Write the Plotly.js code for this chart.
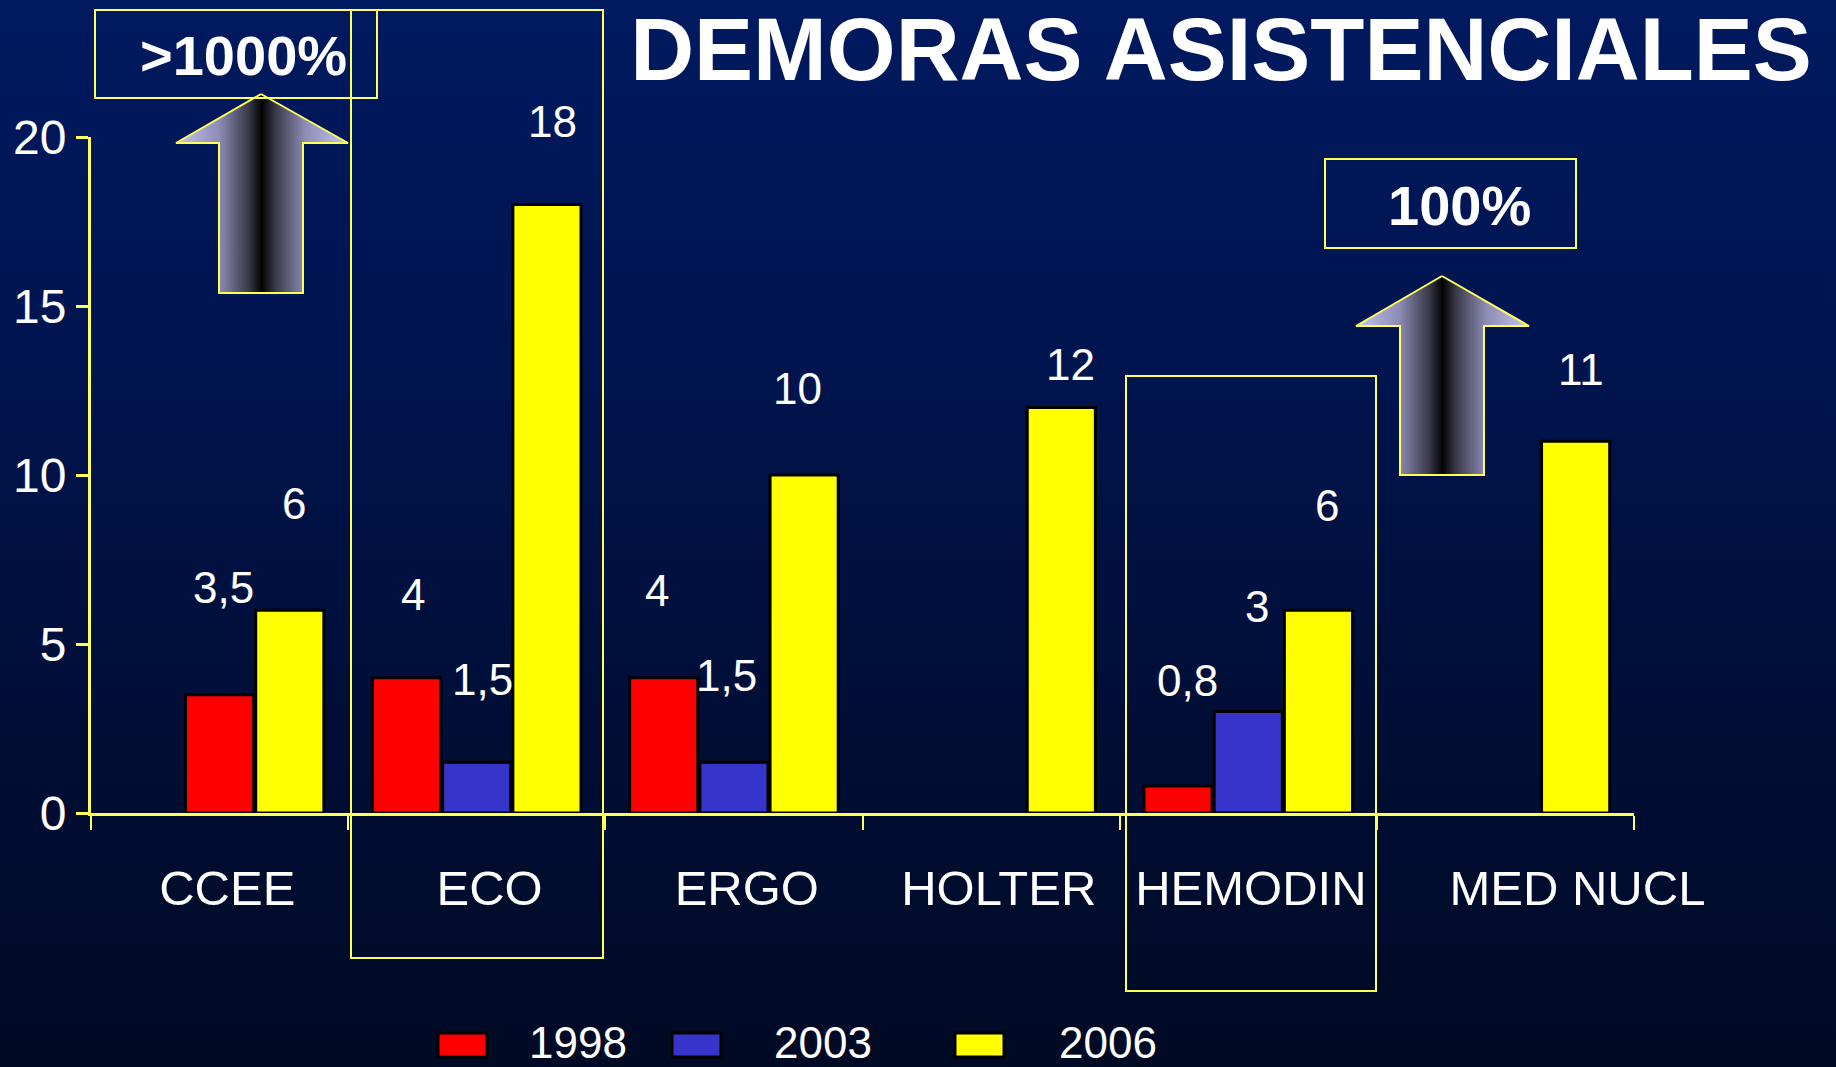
<!DOCTYPE html>
<html>
<head>
<meta charset="utf-8">
<script src="https://cdn.plot.ly/plotly-3.0.1.min.js"></script>
<style>
html, body { margin: 0; padding: 0; }
body {
  width: 1836px; height: 1067px; overflow: hidden;
  background: linear-gradient(to bottom, #001a60 0%, #00144e 35%, #000e35 70%, #000a24 100%);
}
#chart { width: 1836px; height: 1067px; }
</style>
</head>
<body>
<div id="chart"></div>
<script>
// data
var categories = ['CCEE', 'ECO', 'ERGO', 'HOLTER', 'HEMODIN', 'MED NUCL'];
var years = ['1998', '2003', '2006'];
var v1998 = [3.5, 4, 4, null, 0.8, null];
var v2003 = [null, 1.5, 1.5, null, 3, null];
var v2006 = [6, 18, 10, 12, 6, 11];
var yTicks = [0, 5, 10, 15, 20];

var colours = ['#ff0000', '#3535cc', '#ffff00'];
var yellowLine = '#ffff5a';
var font = 'Liberation Sans, Arial, sans-serif';

// slot of each bar inside its group (-1 left, 0 middle, 1 right)
var slots = [
  [0, -1, -1, -1, -1, -1],
  [0, 0, 0, 0, 0, 0],
  [1, 1, 1, 1, 1, 1]
];
// label nudges (px) per category
var labelDx = [4, 6, -7, 9, 9, 5];
var labelDy = [107, 83, 87, 43, 105, 72];
// small horizontal shift of category labels (category units)
var catLabelShift = [0.03, 0.05, 0.05, 0.03, 0.01, 0.28];

var W = 1836, H = 1067;
function px(x) { return x / W; }
function py(y) { return 1 - y / H; }

var xDom = [px(91), px(1634)];
var yDom = [py(813), py(137)];
var catPx = (1634 - 91) / categories.length;
var barW = 0.265, barStep = 0.273;

var series = [v1998, v2003, v2006];
var data = [];
series.forEach(function (vals, s) {
  data.push({
    type: 'bar',
    name: years[s],
    x: categories,
    y: vals,
    width: barW,
    offset: slots[s].map(function (k) { return k * barStep - barW / 2; }),
    marker: { color: colours[s], line: { color: '#000', width: 3 } },
    showlegend: false,
    hoverinfo: 'x+y+name'
  });
});

// block arrows (pixel space overlay)
var arrows = [
  { x: [261, 348, 303, 303, 219, 219, 176, 261], y: [94, 143, 143, 293, 293, 143, 143, 94] },
  { x: [1442, 1529, 1484, 1484, 1400, 1400, 1356, 1442], y: [276, 326, 326, 475, 475, 326, 326, 276] }
];
var arrowScale = [[0, '#c6c6f6'], [0.25, '#8c8cb4'], [0.42, '#3a3a4a'], [0.5, '#030305'],
                  [0.58, '#3a3a4a'], [0.75, '#8c8cb4'], [1, '#c6c6f6']];
arrows.forEach(function (a) {
  data.push({
    type: 'scatter', mode: 'lines', x: a.x, y: a.y,
    xaxis: 'x2', yaxis: 'y2', fill: 'toself',
    fillgradient: { type: 'horizontal', colorscale: arrowScale },
    line: { color: yellowLine, width: 2 },
    hoverinfo: 'skip', showlegend: false
  });
});

// empty trace so the label axis gets drawn
data.push({ type: 'scatter', x: [], y: [], xaxis: 'x3', yaxis: 'y', showlegend: false, hoverinfo: 'skip' });

var annotations = [];
series.forEach(function (vals, s) {
  vals.forEach(function (v, i) {
    if (v === null) return;
    annotations.push({
      xref: 'x', yref: 'y', x: categories[i], y: v,
      text: String(v).replace('.', ','),
      showarrow: false, xanchor: 'center', yanchor: 'middle',
      xshift: slots[s][i] * barStep * catPx + labelDx[i], yshift: labelDy[i],
      font: { family: font, size: 44, color: '#ffffff' }
    });
  });
});

annotations.push({
  xref: 'paper', yref: 'paper', x: px(243), y: py(55), text: '<b>&gt;1000%</b>',
  showarrow: false, xanchor: 'center', yanchor: 'middle',
  font: { family: font, size: 56, color: '#ffffff' }
});
annotations.push({
  xref: 'paper', yref: 'paper', x: px(1459), y: py(205), text: '<b>100%</b>',
  showarrow: false, xanchor: 'center', yanchor: 'middle',
  font: { family: font, size: 56, color: '#ffffff' }
});

function box(x0, y0, x1, y1) {
  return { type: 'rect', xref: 'paper', yref: 'paper', x0: px(x0), x1: px(x1), y0: py(y1), y1: py(y0),
           line: { color: yellowLine, width: 2 }, fillcolor: 'rgba(0,0,0,0)' };
}
var shapes = [
  box(95, 10, 377, 98),
  box(351, 10, 603, 958),
  box(1126, 376, 1376, 991),
  box(1325, 159, 1576, 248)
];

// legend drawn along the bottom
var legendSquareX = [438, 672, 955];
var legendTextX = [527, 772, 1057];
years.forEach(function (yr, s) {
  shapes.push({
    type: 'rect', xref: 'paper', yref: 'paper',
    x0: px(legendSquareX[s]), x1: px(legendSquareX[s] + 49), y0: py(1057), y1: py(1033),
    fillcolor: colours[s], line: { color: '#000', width: 3 }
  });
  annotations.push({
    xref: 'paper', yref: 'paper', x: px(legendTextX[s]), y: py(1042), text: yr,
    showarrow: false, xanchor: 'left', yanchor: 'middle',
    font: { family: font, size: 44, color: '#ffffff' }
  });
});

var layout = {
  width: W, height: H,
  margin: { l: 0, r: 0, t: 0, b: 0 },
  paper_bgcolor: 'rgba(0,0,0,0)',
  plot_bgcolor: 'rgba(0,0,0,0)',
  title: {
    text: '<b>DEMORAS ASISTENCIALES</b>',
    x: px(1221), xanchor: 'center', y: py(49), yanchor: 'middle',
    font: { family: font, size: 88.5, color: '#ffffff' }
  },
  showlegend: false,
  barmode: 'group',
  xaxis: {
    type: 'category', domain: xDom, anchor: 'y', range: [-0.5, 5.5],
    showline: true, linecolor: yellowLine, linewidth: 3,
    ticks: 'outside', tickson: 'boundaries', ticklen: 14, tickwidth: 2, tickcolor: yellowLine,
    showticklabels: false, showgrid: false, zeroline: false, fixedrange: true
  },
  xaxis3: {
    overlaying: 'x', anchor: 'y', type: 'linear', range: [-0.5, 5.5],
    tickmode: 'array',
    tickvals: categories.map(function (c, i) { return i + catLabelShift[i]; }),
    ticktext: categories,
    ticks: '', showline: false, showgrid: false, zeroline: false,
    ticklabelstandoff: 42,
    tickfont: { family: font, size: 49, color: '#ffffff' }
  },
  yaxis: {
    domain: yDom, anchor: 'x', range: [0, 20], tickmode: 'array', tickvals: yTicks,
    showline: true, linecolor: yellowLine, linewidth: 3,
    ticks: 'outside', ticklen: 12, tickwidth: 3, tickcolor: yellowLine,
    tickfont: { family: font, size: 48, color: '#ffffff' },
    showgrid: false, zeroline: false, fixedrange: true
  },
  xaxis2: { domain: [0, 1], anchor: 'y2', range: [0, W], visible: false, fixedrange: true },
  yaxis2: { domain: [0, 1], anchor: 'x2', range: [H, 0], visible: false, fixedrange: true },
  shapes: shapes,
  annotations: annotations
};

Plotly.newPlot('chart', data, layout, { displayModeBar: false, staticPlot: true });
</script>
</body>
</html>
